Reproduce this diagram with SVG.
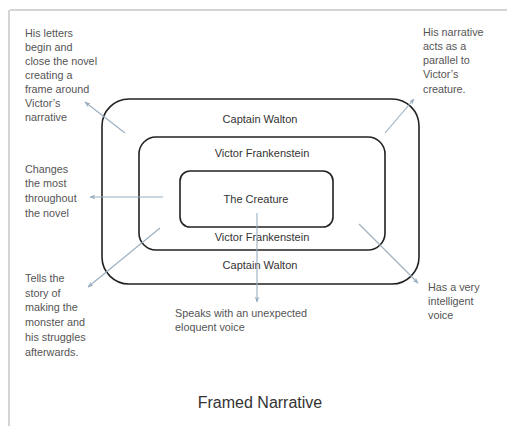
<svg xmlns="http://www.w3.org/2000/svg" width="507" height="426" viewBox="0 0 507 426">
<defs>
<style>
.frame{fill:none;stroke:#222;stroke-width:1.6}
.lbl{font-family:"Liberation Sans",Arial,sans-serif;font-size:11px;fill:#333;text-anchor:middle}
.note{font-family:"Liberation Sans",Arial,sans-serif;font-size:10.8px;fill:#555}
.conn{stroke:#9aaebf;stroke-width:1.1;fill:none;marker-end:url(#ah)}
.title{font-family:"Liberation Sans",Arial,sans-serif;font-size:16px;fill:#333;text-anchor:middle}
</style>
<marker id="ah" viewBox="0 0 10 10" refX="9" refY="5" markerWidth="6" markerHeight="6" orient="auto" markerUnits="userSpaceOnUse">
<path d="M0,1 L10,5 L0,9 L3,5 Z" fill="#9aaebf"/>
</marker>
</defs>
<rect x="0" y="0" width="507" height="426" fill="#fff"/>
<line x1="10" y1="10" x2="507" y2="10" stroke="#d4d4d4" stroke-width="2"/>
<line x1="9" y1="10" x2="9" y2="426" stroke="#d4d4d4" stroke-width="2"/>

<g id="outer">
<rect class="frame" x="102" y="99" width="317" height="185" rx="27" ry="27"/>
<text class="lbl" x="260" y="123">Captain Walton</text>
<text class="lbl" x="260" y="269">Captain Walton</text>
</g>
<g id="middle">
<rect class="frame" x="139" y="137" width="246" height="113" rx="17" ry="17"/>
<text class="lbl" x="262" y="157">Victor Frankenstein</text>
<text class="lbl" x="262" y="241">Victor Frankenstein</text>
</g>
<g id="inner">
<rect class="frame" x="180" y="171" width="153" height="56" rx="10" ry="10"/>
<text class="lbl" x="256" y="203">The Creature</text>
</g>

<g id="connectors">
<line class="conn" x1="125" y1="133" x2="85" y2="102"/>
<line class="conn" x1="385" y1="133" x2="414" y2="99"/>
<line class="conn" x1="163" y1="197" x2="90" y2="197"/>
<line class="conn" x1="160" y1="228" x2="88" y2="287"/>
<line class="conn" x1="359" y1="224" x2="418" y2="283"/>
<line class="conn" x1="257" y1="213" x2="257" y2="302"/>
</g>

<g id="note-letters">
<text class="note" x="25" y="37">His letters</text>
<text class="note" x="25" y="51">begin and</text>
<text class="note" x="25" y="65">close the novel</text>
<text class="note" x="25" y="79">creating a</text>
<text class="note" x="25" y="93">frame around</text>
<text class="note" x="25" y="107">Victor’s</text>
<text class="note" x="25" y="121">narrative</text>
</g>
<g id="note-parallel">
<text class="note" x="423" y="36">His narrative</text>
<text class="note" x="423" y="50">acts as a</text>
<text class="note" x="423" y="64">parallel to</text>
<text class="note" x="423" y="78">Victor’s</text>
<text class="note" x="423" y="93">creature.</text>
</g>
<g id="note-changes">
<text class="note" x="25" y="173">Changes</text>
<text class="note" x="25" y="187">the most</text>
<text class="note" x="25" y="202">throughout</text>
<text class="note" x="25" y="217">the novel</text>
</g>
<g id="note-tells">
<text class="note" x="25" y="282">Tells the</text>
<text class="note" x="25" y="297">story of</text>
<text class="note" x="25" y="311">making the</text>
<text class="note" x="25" y="326">monster and</text>
<text class="note" x="25" y="341">his struggles</text>
<text class="note" x="25" y="356">afterwards.</text>
</g>
<g id="note-intelligent">
<text class="note" x="428" y="291">Has a very</text>
<text class="note" x="428" y="305">intelligent</text>
<text class="note" x="428" y="319">voice</text>
</g>
<g id="note-speaks">
<text class="note" x="175" y="317">Speaks with an unexpected</text>
<text class="note" x="175" y="331">eloquent voice</text>
</g>
<text class="title" x="260" y="408">Framed Narrative</text>
</svg>
